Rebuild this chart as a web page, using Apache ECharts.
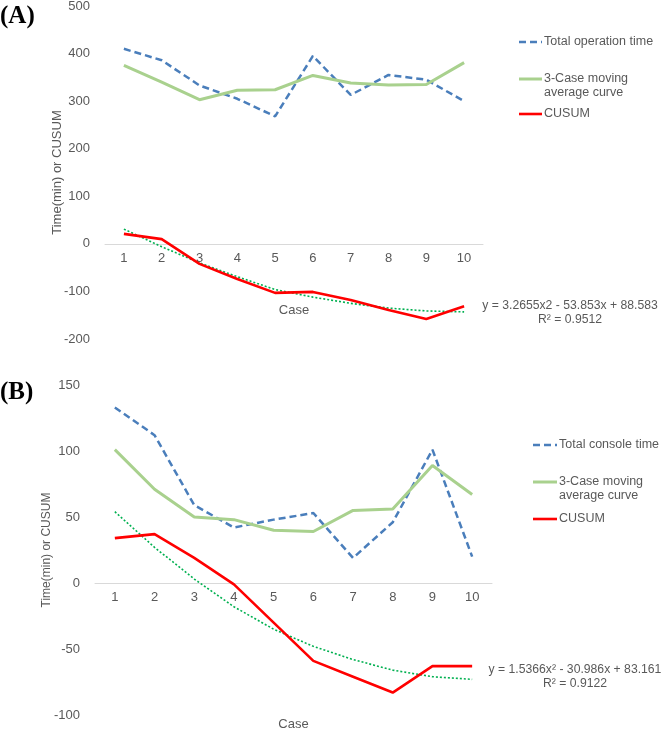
<!DOCTYPE html>
<html>
<head>
<meta charset="utf-8">
<script src="https://cdn.jsdelivr.net/npm/echarts@6/dist/echarts.min.js"></script>
<style>
html,body{margin:0;padding:0;background:#fff;}
#c{width:662px;height:729px;}
</style>
</head>
<body>
<div id="c"></div>
<script>
// ---- data ----
const cases = ['1','2','3','4','5','6','7','8','9','10'];
// (A) total operation time
const opTime  = [410, 386, 333, 305, 268, 395, 313, 355, 345, 300];
const opMA    = [375, 340, 303, 323, 324, 354, 338, 334, 335, 381];
const opCusum = [21, 10, -42, -74, -103, -101, -118, -139, -158, -131];
const opTrend = [31, -6, -40, -69, -96, -112, -125, -135, -141, -143];
// (B) total console time
const conTime  = [133, 112, 59, 42, 48, 53, 19, 46, 101, 20];
const conMA    = [101, 71, 50, 48, 40, 39, 55, 56, 89, 67];
const conCusum = [34, 37, 19, -1, -30, -59, -71, -83, -63, -63];
const conTrend = [54, 27, 3, -18, -35, -48, -58, -66, -71, -73];
// ticks
const yTicksA = {min: -200, max: 500, interval: 100};
const yTicksB = {min: -100, max: 150, interval: 50};
const eqA = ['y = 3.2655x2 - 53.853x + 88.583', 'R² = 0.9512'];
const eqB = ['y = 1.5366x² - 30.986x + 83.161', 'R² = 0.9122'];
const legendA = ['Total operation time', '3-Case moving', 'average curve', 'CUSUM'];
const legendB = ['Total console time', '3-Case moving', 'average curve', 'CUSUM'];

// ---- styles ----
const BLUE = '#4a7ebb', GREEN = '#a9d18e', RED = '#ff0000', TREND = '#00b050', GREY = '#595959';
const FONT = 'Liberation Sans, Arial, sans-serif';

function xAxis(gi, offset, gap){
  return {type:'category', gridIndex: gi, data: cases, boundaryGap: true,
    offset: offset,
    axisLine:{onZero:false, lineStyle:{color:'#d9d9d9', width:1}},
    axisTick:{show:false},
    axisLabel:{color:GREY, fontSize:13, fontFamily:FONT, margin:8},
    name:'Case', nameLocation:'middle', nameGap: gap, nameMoveOverlap:false,
    nameTextStyle:{color:GREY, fontSize:13, fontFamily:FONT}};
}
function yAxis(gi, t, gap, fs){
  return {type:'value', gridIndex: gi, min:t.min, max:t.max, interval:t.interval,
    axisLine:{show:false}, axisTick:{show:false}, splitLine:{show:false},
    axisLabel:{color:GREY, fontSize:13, fontFamily:FONT, margin:15},
    name:'Time(min) or CUSUM', nameLocation:'middle', nameGap: gap, nameMoveOverlap:false,
    nameTextStyle:{color:GREY, fontSize:fs, fontFamily:FONT}};
}
function series(gi, name, data, kind){
  const s = {type:'line', name: name, xAxisIndex: gi, yAxisIndex: gi, data: data,
    symbol:'none', animation:false, z: 2};
  if(kind==='dash') s.lineStyle = {color:BLUE, width:2.5, type:[7,4]};
  if(kind==='ma') s.lineStyle = {color:GREEN, width:3};
  if(kind==='cusum'){ s.lineStyle = {color:RED, width:2.6}; s.z = 4; }
  if(kind==='trend'){ s.lineStyle = {color:TREND, width:1.6, type:[2,2]}; s.z = 3; }
  s.itemStyle = {color: s.lineStyle.color};
  return s;
}
function legendGraphics(x0, x1, ys, labels){
  const items = [];
  const kinds = [{color:BLUE, width:2.5, lineDash:[7,4]}, {color:GREEN, width:3}, {color:RED, width:2.6}];
  const lineYs = [ys[0], ys[1], ys[3]];
  kinds.forEach((k,i)=>{
    items.push({type:'line', shape:{x1:x0, y1:lineYs[i], x2:x1, y2:lineYs[i]},
      style:{stroke:k.color, lineWidth:k.width, lineDash:k.lineDash||null}});
  });
  labels.forEach((t,i)=>{
    items.push({type:'text', x: x1+2, y: ys[i],
      style:{text:t, fill:GREY, font:'12.5px '+FONT, textVerticalAlign:'middle', textAlign:'left'}});
  });
  return items;
}
function eqGraphics(cx, y0, lines){
  return lines.map((t,i)=>({type:'text', x: cx, y: y0 + i*14,
    style:{text:t, fill:GREY, font:'12.2px '+FONT, textAlign:'center', textVerticalAlign:'middle'}}));
}

const option = {
  backgroundColor:'#fff',
  animation:false,
  grid:[
    {left:105, top:6, width:378, height:333, outerBoundsMode:'none', containLabel:false},
    {left:95, top:385, width:397, height:330, outerBoundsMode:'none', containLabel:false}
  ],
  xAxis:[xAxis(0, -95, 60), xAxis(1, -132, 135)],
  yAxis:[yAxis(0, yTicksA, 41, 13), yAxis(1, yTicksB, 42, 12)],
  series:[
    series(0,'Total operation time', opTime, 'dash'),
    series(0,'3-Case moving average curve', opMA, 'ma'),
    series(0,'CUSUM', opCusum, 'cusum'),
    series(0,'Poly. (CUSUM)', opTrend, 'trend'),
    series(1,'Total console time', conTime, 'dash'),
    series(1,'3-Case moving average curve', conMA, 'ma'),
    series(1,'CUSUM', conCusum, 'cusum'),
    series(1,'Poly. (CUSUM)', conTrend, 'trend')
  ],
  graphic: [
    {type:'text', x:0, y:17, style:{text:'(A)', fill:'#000', font:'bold 25px "Liberation Serif", "Times New Roman", serif', textVerticalAlign:'middle'}},
    {type:'text', x:0, y:393, style:{text:'(B)', fill:'#000', font:'bold 25px "Liberation Serif", "Times New Roman", serif', textVerticalAlign:'middle'}},
    ...legendGraphics(519, 542, [42, 79, 93, 114], legendA),
    ...legendGraphics(533, 557, [445, 482, 496, 519], legendB),
    ...eqGraphics(570, 306, eqA),
    ...eqGraphics(575, 670, eqB)
  ]
};
const chart = echarts.init(document.getElementById('c'), null, {renderer:'canvas'});
chart.setOption(option);
</script>
</body>
</html>
